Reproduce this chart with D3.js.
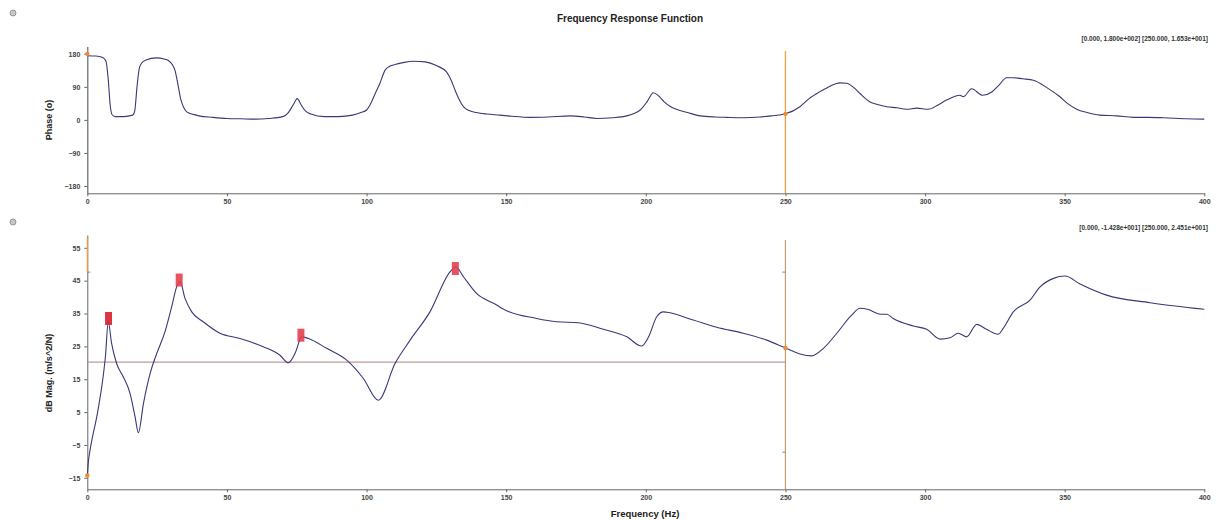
<!DOCTYPE html>
<html>
<head>
<meta charset="utf-8">
<script src="https://cdn.jsdelivr.net/npm/d3@7"></script>
<style>
  body { margin: 0; background: #fff; }
  svg { display: block; font-family: "Liberation Sans", Arial, sans-serif; }
  .axis path, .axis line { stroke: #666; }
  .axis text { fill: #444; font-size: 7px; font-weight: bold; }
</style>
</head>
<body>
<div id="chart"></div>
<script>
// phase curve (deg) vs frequency (Hz)
var phaseFreq = [0, 3, 5.5, 6.7, 7.5, 8.2, 8.9, 10, 13, 16.3, 17, 17.8, 18.6, 19.5, 21, 24.8, 27.5, 29, 30.5, 31.4, 32.5, 33.5, 34.4, 35.6, 38, 40, 45, 50, 55, 60, 65, 70, 72, 73.8, 75.2, 76.5, 78, 80, 85, 90, 95, 98, 100, 101.2, 103, 104.8, 106.6, 108, 110.2, 113, 116.7, 121, 125, 128.7, 130.3, 131.7, 133.2, 134.7, 136.5, 139.4, 143, 147.8, 152, 158.5, 165, 172.9, 178, 182.5, 188, 193.2, 196, 198, 200.5, 202.7, 204.5, 206.5, 208.5, 211, 215, 219.4, 225, 229, 235, 240.9, 245, 250, 255.2, 258.5, 262.4, 266, 269.5, 271.9, 274.5, 276.7, 280.3, 283, 286.3, 290, 293.4, 297, 301.2, 304.5, 307.7, 312.5, 313.7, 316.7, 320.6, 323.9, 326.5, 329.2, 331.6, 335, 338.8, 343.6, 348.3, 351, 354.3, 358, 362.6, 368.6, 374.6, 380, 385.3, 393.7, 400];
var phaseVals = [175, 174, 170, 160, 110, 40, 14, 9, 9, 13, 25, 90, 140, 155, 163, 169, 166, 162, 150, 135, 95, 55, 36, 22, 15, 11, 7, 4, 3, 2, 4, 9, 20, 42, 58, 42, 25, 16, 9, 9, 13, 20, 27, 40, 70, 100, 135, 145, 151, 156, 160, 158, 148, 130, 108, 81, 55, 36, 26, 20, 16, 13, 10, 7, 8, 11, 8, 4, 6, 11, 18, 27, 50, 74, 66, 50, 38, 29, 20, 11, 8, 7, 6, 8, 11, 16.5, 36, 58, 77, 92, 101, 100, 88, 72, 49, 42, 36, 33, 29, 32, 29, 40, 54, 67, 63, 85, 67, 76, 95, 115, 115, 112, 108, 88, 63, 45, 29, 20, 13, 11, 7, 7, 6, 3, 2];

// magnitude curve (dB) vs frequency (Hz)
var magFreq = [0, 0.4, 1, 2, 3.4, 4.5, 5.7, 6.5, 7.5, 8.7, 10.5, 12.9, 15.3, 17.1, 18.3, 20.1, 22.5, 24.9, 27.8, 30.2, 32, 33.2, 35, 37.4, 41.5, 47.5, 54.7, 63, 69, 72, 74.4, 76.8, 79.2, 85.7, 92.9, 98.8, 104.2, 110.2, 115.6, 122.7, 129.9, 132, 134.7, 139.4, 146.6, 148.4, 160.9, 168.1, 175.8, 184.8, 193.2, 198.5, 201, 203.9, 206.3, 207.5, 217, 225.4, 234.9, 243.3, 250, 255.2, 259.4, 263.6, 268.4, 273.7, 276.7, 279.7, 283.9, 286.3, 288.6, 295.8, 300.6, 305.4, 308.9, 311.9, 314.9, 318.5, 322, 326.2, 328, 331.6, 337.6, 341.2, 346, 350.1, 355.5, 365, 380.6, 400];
var magVals = [-14.3, -10, -6.5, -2, 3.6, 9, 16, 22, 32.5, 25.9, 19.8, 15.7, 10.7, 3.6, -1.3, 7.6, 16.8, 22.9, 29.4, 37, 43.1, 44.8, 39.6, 35.5, 32.5, 29, 27.4, 24.9, 22.3, 20, 22.9, 27.9, 27.4, 24.4, 20.8, 15.3, 8.6, 19.8, 26.9, 35.5, 47.7, 49.2, 46.2, 41.1, 37.6, 36.6, 33.5, 32.5, 32.2, 30.2, 27.9, 25.1, 27.9, 34, 35.5, 35.4, 33, 30.8, 29, 26.9, 24.5, 22.7, 22.1, 24.4, 29, 34.5, 36.6, 36.2, 34.8, 34.8, 33.5, 31.2, 30.2, 27.2, 27.6, 29, 27.9, 31.7, 30.2, 28.7, 30.5, 35.5, 39.1, 43.1, 45.7, 46.4, 44, 40.6, 38.3, 36.3];

// peak markers on magnitude
var peakFreq = [7.6, 32.9, 76.5, 131.8];
var peakDb = [33.5, 45.2, 28.4, 48.7];
var peakColor = ["#d6202e", "#e2414f", "#e2414f", "#e2414f"];

var xTicks = [0, 50, 100, 150, 200, 250, 300, 350, 400];
var phaseTicks = [180, 90, 0, -90, -180];
var magTicks = [55, 45, 35, 25, 15, 5, -5, -15];

var cursorFreq = 250;
var magRefLevel = 20.2;
var phaseReadout = "[0.000, 1.800e+002] [250.000, 1.653e+001]";
var magReadout = "[0.000, -1.428e+001] [250.000, 2.451e+001]";

var W = 1220, H = 521;
var svg = d3.select("#chart").append("svg").attr("width", W).attr("height", H);
svg.append("rect").attr("width", W).attr("height", H).attr("fill", "#fff");

var x = d3.scaleLinear().domain([0, 400]).range([87.3, 1204.3]);
var yP = d3.scaleLinear().domain([-200, 200]).range([193.3, 46.5]);
var yM = d3.scaleLinear().domain([-18.5, 58.9]).range([489.3, 235]);

function toPts(xs, ys) { return xs.map(function (f, i) { return [f, ys[i]]; }); }
var lineColor = "#38387a";
var cursorColor = "#f0a040";

// title + status icons
svg.append("text").attr("x", 630).attr("y", 22).attr("text-anchor", "middle")
  .attr("font-size", 10).attr("font-weight", "bold").attr("fill", "#222")
  .text("Frequency Response Function");
[13, 222].forEach(function (cy) {
  svg.append("circle").attr("cx", 13).attr("cy", cy).attr("r", 3)
    .attr("fill", "#c8c8c8").attr("stroke", "#888").attr("stroke-width", 0.8);
});

// ---------- phase panel ----------
var gP = svg.append("g");
gP.append("g").attr("class", "axis")
  .attr("transform", "translate(0," + yP.range()[0] + ")")
  .call(d3.axisBottom(x).tickValues(xTicks).tickSize(3).tickSizeOuter(0));
var ayP = gP.append("g").attr("class", "axis")
  .attr("transform", "translate(" + x(0) + ",0)")
  .call(d3.axisLeft(yP).tickValues(phaseTicks).tickSize(3).tickSizeOuter(0));
ayP.select("path").attr("stroke", cursorColor).attr("stroke-width", 1.2);
ayP.selectAll("text").attr("dx", "-1");

gP.append("text").attr("transform", "translate(52,120) rotate(-90)")
  .attr("text-anchor", "middle").attr("font-size", 9).attr("font-weight", "bold")
  .attr("fill", "#222").text("Phase (o)");
gP.append("text").attr("x", 1208).attr("y", 41).attr("text-anchor", "end")
  .attr("font-size", 6.5).attr("font-weight", "bold").attr("fill", "#333").text(phaseReadout);

gP.append("line").attr("x1", x(cursorFreq)).attr("x2", x(cursorFreq))
  .attr("y1", 51).attr("y2", yP.range()[0])
  .attr("stroke", cursorColor).attr("stroke-width", 1.3);

gP.append("path").datum(toPts(phaseFreq, phaseVals))
  .attr("fill", "none").attr("stroke", lineColor).attr("stroke-width", 1.1)
  .attr("d", d3.line().x(function (d) { return x(d[0]); }).y(function (d) { return yP(d[1]); })
    .curve(d3.curveMonotoneX));

gP.selectAll(".pdot").data([[0, 180], [cursorFreq, 16.53]]).enter().append("circle")
  .attr("cx", function (d) { return x(d[0]); }).attr("cy", function (d) { return yP(d[1]); })
  .attr("r", 2.2).attr("fill", "#f08a30");

// ---------- magnitude panel ----------
var gM = svg.append("g");
gM.append("g").attr("class", "axis")
  .attr("transform", "translate(0," + yM.range()[0] + ")")
  .call(d3.axisBottom(x).tickValues(xTicks).tickSize(3).tickSizeOuter(0));
var ayM = gM.append("g").attr("class", "axis")
  .attr("transform", "translate(" + x(0) + ",0)")
  .call(d3.axisLeft(yM).tickValues(magTicks).tickSize(3).tickSizeOuter(0));
ayM.selectAll("text").attr("dx", "-1");
// orange cursor segment on the y axis
gM.append("line").attr("x1", x(0)).attr("x2", x(0))
  .attr("y1", yM(58)).attr("y2", yM(47.6)).attr("stroke", cursorColor).attr("stroke-width", 1.2);
gM.append("line").attr("x1", x(0)).attr("x2", x(0) + 3)
  .attr("y1", yM(47.6)).attr("y2", yM(47.6)).attr("stroke", "#888");

gM.append("text").attr("transform", "translate(52,373) rotate(-90)")
  .attr("text-anchor", "middle").attr("font-size", 9).attr("font-weight", "bold")
  .attr("fill", "#222").text("dB Mag. (m/s^2/N)");
gM.append("text").attr("x", 645).attr("y", 517).attr("text-anchor", "middle")
  .attr("font-size", 9.5).attr("font-weight", "bold").attr("fill", "#222").text("Frequency (Hz)");
gM.append("text").attr("x", 1208).attr("y", 230).attr("text-anchor", "end")
  .attr("font-size", 6.5).attr("font-weight", "bold").attr("fill", "#333").text(magReadout);

// reference level and cursor
gM.append("line").attr("x1", x(0)).attr("x2", x(cursorFreq))
  .attr("y1", yM(magRefLevel)).attr("y2", yM(magRefLevel))
  .attr("stroke", "#b99a9a").attr("stroke-width", 1.2);
gM.append("line").attr("x1", x(cursorFreq)).attr("x2", x(cursorFreq))
  .attr("y1", 240).attr("y2", yM.range()[0])
  .attr("stroke", "#c89a68").attr("stroke-width", 1.2);
[47.6, -7.2].forEach(function (v) {
  gM.append("line").attr("x1", x(cursorFreq) - 3).attr("x2", x(cursorFreq))
    .attr("y1", yM(v)).attr("y2", yM(v)).attr("stroke", "#888");
});

gM.append("path").datum(toPts(magFreq, magVals))
  .attr("fill", "none").attr("stroke", lineColor).attr("stroke-width", 1.1)
  .attr("d", d3.line().x(function (d) { return x(d[0]); }).y(function (d) { return yM(d[1]); })
    .curve(d3.curveMonotoneX));

gM.selectAll(".peak").data(peakFreq).enter().append("rect")
  .attr("x", function (d) { return x(d) - 3.5; })
  .attr("y", function (d, i) { return yM(peakDb[i]) - 6.5; })
  .attr("width", 7).attr("height", 13)
  .attr("fill", function (d, i) { return peakColor[i]; }).attr("opacity", 0.9);

gM.selectAll(".mdot").data([[0, -14.28], [cursorFreq, 24.51]]).enter().append("circle")
  .attr("cx", function (d) { return x(d[0]); }).attr("cy", function (d) { return yM(d[1]); })
  .attr("r", 2.2).attr("fill", "#f08a30");
</script>
</body>
</html>
